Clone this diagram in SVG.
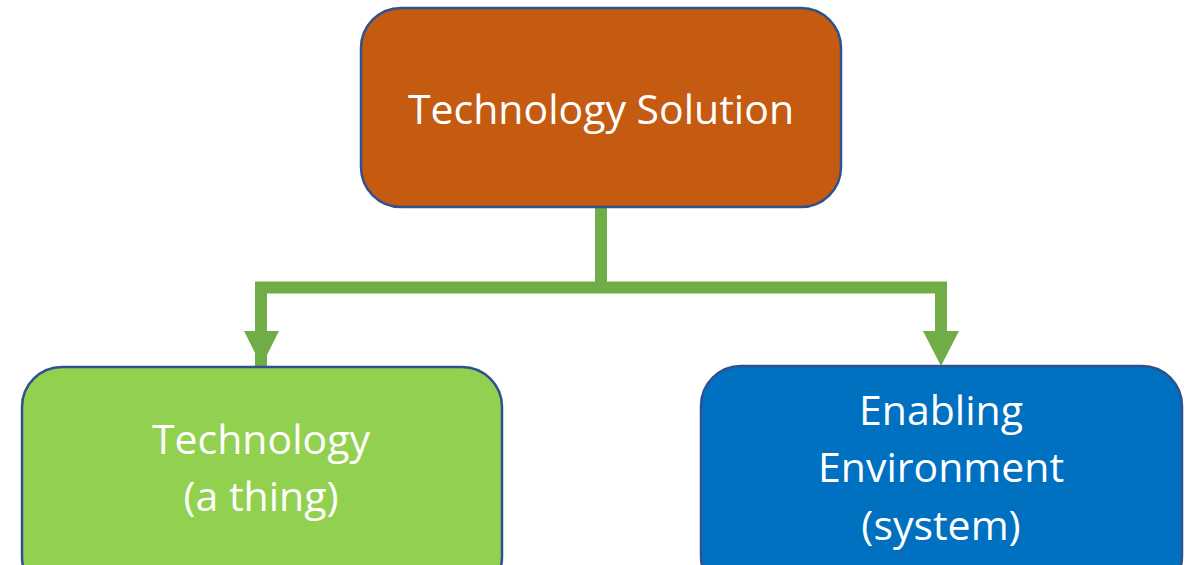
<svg xmlns="http://www.w3.org/2000/svg" width="1196" height="565" viewBox="0 0 1196 565">
<defs>
<style>
.box{stroke:#2F528F;stroke-width:2.5}
.lbl{font-family:"Open Sans","Liberation Sans",sans-serif;font-size:41px;fill:#FFFFFF;text-anchor:middle}
.conn{fill:none;stroke:#70AD47;stroke-width:12}
.head{fill:#70AD47}
</style>
</defs>
<rect width="1196" height="565" fill="#FFFFFF"/>
<g id="connectors">
<path class="conn" d="M601,207 V287.5 M261,366 V287.5 H941 V340"/>
<polygon class="head" points="244,331 279,331 261.5,366"/>
<polygon class="head" points="923,331 959,331 941,366"/>
</g>
<g id="node-solution">
<rect class="box" x="361" y="8" width="480" height="199" rx="40" fill="#C55A11"/>
<text class="lbl" x="601" y="124">Technology Solution</text>
</g>
<g id="node-technology">
<rect class="box" x="22" y="367" width="480" height="230" rx="40" fill="#92D050"/>
<text class="lbl" x="261" y="454">Technology</text>
<text class="lbl" x="261" y="511">(a thing)</text>
</g>
<g id="node-environment">
<rect class="box" x="701" y="366" width="481" height="230" rx="40" fill="#0070C0"/>
<text class="lbl" x="941" y="425">Enabling</text>
<text class="lbl" x="941" y="482">Environment</text>
<text class="lbl" x="941" y="540">(system)</text>
</g>
</svg>
